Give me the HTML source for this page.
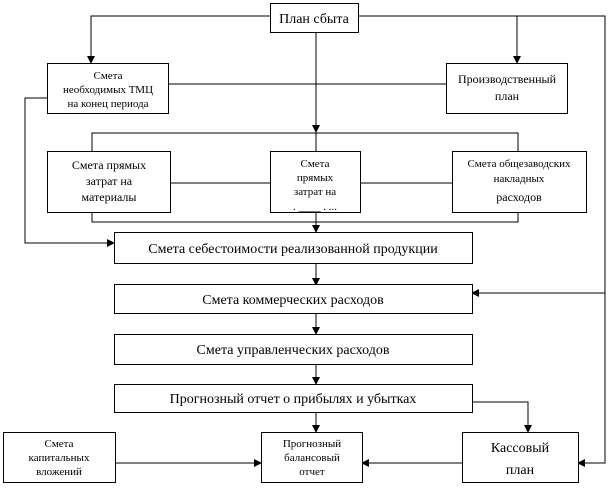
<!DOCTYPE html>
<html><head><meta charset="utf-8"><style>
body{margin:0;background:#fff;width:608px;height:487px;overflow:hidden}
svg{font-family:"Liberation Serif",serif}
rect{fill:#fff;stroke:#000;stroke-width:1}
line,polyline{stroke:#000;fill:none;stroke-width:1}
text{text-anchor:middle;fill:#000}
.s{font-size:11px}.m{font-size:12px}.l{font-size:14px}
</style></head><body>
<svg width="608" height="487" viewBox="0 0 608 487">
<defs><marker id="a" markerWidth="8" markerHeight="8" refX="7" refY="4" orient="auto" markerUnits="userSpaceOnUse"><path d="M0,0 L8,4 L0,8z" fill="#000"/></marker></defs>
<!-- connectors -->
<polyline points="270,16 91,16 91,63" marker-end="url(#a)"/>
<polyline points="358,16 605,16 605,463 578,463" marker-end="url(#a)"/>
<polyline points="605,293 472,293" marker-end="url(#a)"/>
<polyline points="517,16 517,63" marker-end="url(#a)"/>
<line x1="316" y1="32" x2="316" y2="132" marker-end="url(#a)"/>
<line x1="168" y1="84" x2="446" y2="84"/>
<polyline points="47,98 25,98 25,243 114,243" marker-end="url(#a)"/>
<polyline points="92,151 92,133 518,133 518,151"/>
<line x1="316" y1="133" x2="316" y2="151"/>
<line x1="170" y1="183" x2="452" y2="183"/>
<polyline points="92,212 92,222 518,222 518,212"/>
<line x1="316" y1="212" x2="316" y2="232" marker-end="url(#a)"/>
<line x1="316" y1="263" x2="316" y2="285" marker-end="url(#a)"/>
<line x1="316" y1="313" x2="316" y2="334" marker-end="url(#a)"/>
<line x1="316" y1="364" x2="316" y2="384" marker-end="url(#a)"/>
<line x1="316" y1="412" x2="316" y2="432" marker-end="url(#a)"/>
<polyline points="472,402 528,402 528,432" marker-end="url(#a)"/>
<line x1="115" y1="463" x2="261" y2="463" marker-end="url(#a)"/>
<line x1="462" y1="463" x2="362" y2="463" marker-end="url(#a)"/>
<!-- boxes -->
<rect x="270.5" y="3.5" width="88" height="29"/><text class="l" x="314" y="23">План сбыта</text>
<rect x="47.5" y="63.5" width="121" height="50"/><text class="s" x="108" y="79">Смета</text><text class="s" x="108" y="93">необходимых ТМЦ</text><text class="s" x="108" y="107">на конец периода</text>
<rect x="446.5" y="63.5" width="121" height="50"/><text class="m" x="507" y="83">Производственный</text><text class="m" x="507" y="100">план</text>
<rect x="47.5" y="151.5" width="123" height="61"/><text class="m" x="109" y="169">Смета прямых</text><text class="m" x="109" y="185">затрат на</text><text class="m" x="109" y="201">материалы</text>
<rect x="270.5" y="151.5" width="90" height="61"/><text class="s" x="315" y="167">Смета</text><text class="s" x="315" y="181">прямых</text><text class="s" x="315" y="195">затрат на</text><text class="s" x="315" y="210">. ____ . ...</text>
<rect x="452.5" y="151.5" width="134" height="61"/><text class="s" x="519" y="167">Смета общезаводских</text><text class="s" x="519" y="182">накладных</text><text class="m" x="519" y="201">расходов</text>
<rect x="114.5" y="232.5" width="358" height="31"/><text class="l" x="293" y="253">Смета себестоимости реализованной продукции</text>
<rect x="114.5" y="284.5" width="358" height="29"/><text class="l" x="293" y="304">Смета коммерческих расходов</text>
<rect x="114.5" y="334.5" width="358" height="30"/><text class="l" x="293" y="354">Смета управленческих расходов</text>
<rect x="114.5" y="384.5" width="358" height="28"/><text class="l" x="293" y="403">Прогнозный отчет о прибылях и убытках</text>
<rect x="3.5" y="432.5" width="112" height="50"/><text class="s" x="59" y="447">Смета</text><text class="s" x="59" y="461">капитальных</text><text class="s" x="59" y="475">вложений</text>
<rect x="261.5" y="432.5" width="101" height="50"/><text class="s" x="312" y="447">Прогнозный</text><text class="s" x="312" y="461">балансовый</text><text class="s" x="312" y="475">отчет</text>
<rect x="462.5" y="432.5" width="116" height="50"/><text class="l" x="520" y="452">Кассовый</text><text class="l" x="520" y="474">план</text>
</svg>
</body></html>
